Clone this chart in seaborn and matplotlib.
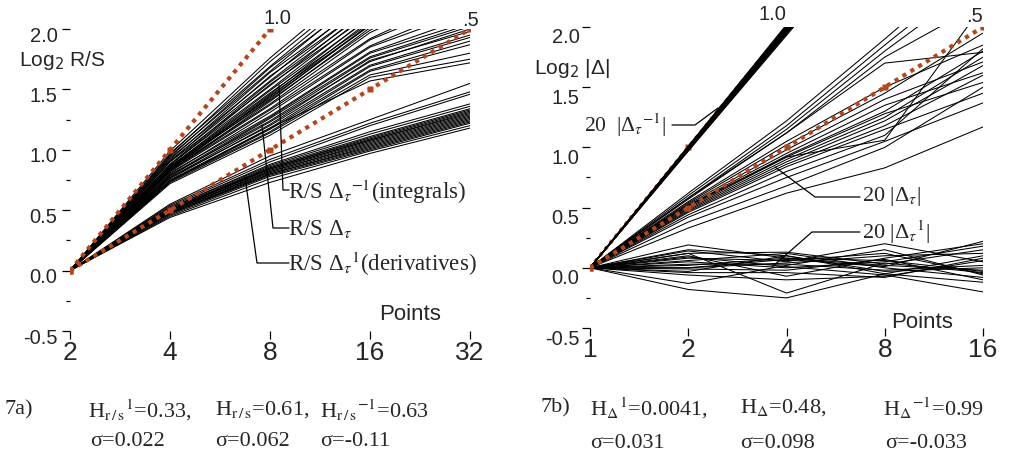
import numpy as np
import pandas as pd
import matplotlib
matplotlib.use("Agg")
import matplotlib.pyplot as plt
from matplotlib.lines import Line2D
from matplotlib.transforms import ScaledTranslation
from matplotlib.ticker import NullLocator
import seaborn as sns

# ---------------- data ----------------
# Panel a: log2 R/S against number of points (2..32)
rs_points = [2, 4, 8, 16, 32]
rs_integrals = [
    [0, 0.99, 1.76, 2.45, 3.00],
    [0, 0.96, 1.73, 2.40, 2.90],
    [0, 0.97, 1.69, 2.37, 2.90],
    [0, 0.94, 1.68, 2.30, 2.85],
    [0, 0.95, 1.65, 2.33, 2.80],
    [0, 0.92, 1.64, 2.24, 2.80],
    [0, 0.93, 1.60, 2.27, 2.75],
    [0, 0.90, 1.61, 2.20, 2.75],
    [0, 0.91, 1.57, 2.21, 2.70],
    [0, 0.88, 1.56, 2.16, 2.70],
    [0, 0.90, 1.53, 2.18, 2.65],
    [0, 0.87, 1.54, 2.12, 2.65],
    [0, 0.88, 1.50, 2.14, 2.60],
    [0, 0.86, 1.49, 2.09, 2.60],
    [0, 0.85, 1.46, 2.10, 2.55],
    [0, 0.86, 1.47, 2.05, 2.55],
    [0, 0.84, 1.44, 2.07, 2.50],
    [0, 0.83, 1.45, 2.03, 2.50],
    [0, 0.84, 1.42, 2.04, 2.50],
    [0, 0.82, 1.40, 2.01, 2.45],
]
rs_plain = [
    [0, 0.86, 1.43, 2.03, 2.45],
    [0, 0.85, 1.41, 1.99, 2.40],
    [0, 0.84, 1.38, 1.97, 2.35],
    [0, 0.83, 1.37, 1.92, 2.30],
    [0, 0.83, 1.34, 1.91, 2.25],
    [0, 0.82, 1.33, 1.86, 2.20],
    [0, 0.80, 1.31, 1.85, 2.15],
    [0, 0.81, 1.28, 1.81, 2.10],
    [0, 0.79, 1.27, 1.80, 2.06],
    [0, 0.78, 1.26, 1.77, 2.04],
    [0, 0.79, 1.24, 1.76, 2.02],
    [0, 0.77, 1.23, 1.73, 2.00],
    [0, 0.76, 1.21, 1.74, 1.98],
    [0, 0.77, 1.20, 1.70, 1.95],
    [0, 0.75, 1.18, 1.69, 1.93],
    [0, 0.74, 1.17, 1.66, 1.90],
    [0, 0.74, 1.15, 1.65, 1.87],
    [0, 0.73, 1.14, 1.62, 1.80],
    [0, 0.72, 1.12, 1.60, 1.75],
    [0, 0.74, 1.18, 1.57, 1.72],
]
rs_derivatives = [
    [0, 0.55, 0.95, 1.25, 1.55],
    [0, 0.54, 0.92, 1.22, 1.48],
    [0, 0.53, 0.90, 1.20, 1.46],
    [0, 0.52, 0.88, 1.15, 1.38],
    [0, 0.52, 0.87, 1.13, 1.36],
    [0, 0.51, 0.86, 1.11, 1.34],
    [0, 0.51, 0.85, 1.10, 1.33],
    [0, 0.50, 0.85, 1.09, 1.32],
    [0, 0.50, 0.84, 1.08, 1.31],
    [0, 0.50, 0.84, 1.08, 1.30],
    [0, 0.49, 0.83, 1.07, 1.29],
    [0, 0.49, 0.82, 1.06, 1.28],
    [0, 0.49, 0.82, 1.05, 1.27],
    [0, 0.48, 0.81, 1.04, 1.26],
    [0, 0.48, 0.80, 1.03, 1.25],
    [0, 0.47, 0.80, 1.02, 1.24],
    [0, 0.47, 0.79, 1.01, 1.23],
    [0, 0.46, 0.78, 1.00, 1.22],
    [0, 0.45, 0.76, 0.99, 1.20],
    [0, 0.44, 0.73, 0.97, 1.18],
]
rs_ref_points = {"1.0": [2, 4, 8], ".5": [2, 4, 8, 16, 32]}
rs_ref_values = {"1.0": [0, 1, 2], ".5": [0, 0.5, 1, 1.5, 2]}

# Panel b: log2 |Delta| against number of points (1..16)
d_points = [1, 2, 4, 8, 16]
d_inverse = [
    [0, 1.01, 2.02, 3.03, 4.03],
    [0, 1.01, 2.01, 3.02, 4.02],
    [0, 1.00, 2.00, 3.00, 4.00],
    [0, 1.00, 2.00, 2.99, 3.99],
    [0, 1.00, 1.99, 2.99, 3.98],
    [0, 1.00, 1.99, 2.98, 3.97],
    [0, 1.00, 1.99, 2.97, 3.96],
    [0, 0.99, 1.98, 2.97, 3.96],
    [0, 0.99, 1.98, 2.96, 3.95],
    [0, 0.99, 1.98, 2.96, 3.94],
    [0, 0.99, 1.97, 2.95, 3.94],
    [0, 0.99, 1.97, 2.95, 3.93],
    [0, 0.99, 1.97, 2.94, 3.92],
    [0, 0.98, 1.96, 2.94, 3.92],
    [0, 0.98, 1.96, 2.93, 3.91],
    [0, 0.98, 1.96, 2.93, 3.90],
    [0, 0.98, 1.95, 2.92, 3.89],
    [0, 0.98, 1.95, 2.91, 3.88],
    [0, 0.97, 1.94, 2.90, 3.87],
    [0, 0.97, 1.93, 2.89, 3.86],
]
d_plain = [
    [0, 0.62, 1.22, 1.90, 2.60],
    [0, 0.60, 1.18, 1.85, 2.50],
    [0, 0.58, 1.15, 1.80, 2.40],
    [0, 0.57, 1.12, 1.75, 2.20],
    [0, 0.52, 0.92, 1.06, 2.18],
    [0, 0.58, 1.12, 1.70, 1.79],
    [0, 0.55, 1.05, 1.50, 1.85],
    [0, 0.54, 1.02, 1.45, 1.95],
    [0, 0.53, 0.98, 1.40, 1.71],
    [0, 0.52, 0.95, 1.35, 1.62],
    [0, 0.51, 0.93, 1.30, 1.80],
    [0, 0.50, 0.92, 1.28, 1.54],
    [0, 0.49, 0.90, 1.25, 1.75],
    [0, 0.48, 0.88, 1.22, 1.68],
    [0, 0.47, 0.86, 1.18, 1.60],
    [0, 0.46, 0.84, 1.15, 1.45],
    [0, 0.44, 0.80, 1.10, 1.82],
    [0, 0.42, 0.75, 1.05, 1.37],
    [0, 0.38, 0.68, 1.00, 1.50],
    [0, 0.33, 0.62, 0.83, 1.17],
]
d_derivatives = [
    [0, 0.19, 0.08, 0.02, -0.02],
    [0, 0.15, 0.10, -0.05, 0.10],
    [0, 0.14, 0.05, 0.20, 0.05],
    [0, 0.12, 0.13, 0.03, 0.15],
    [0, 0.10, -0.07, 0.08, 0.20],
    [0, 0.08, 0.06, 0.12, -0.05],
    [0, 0.06, 0.12, 0.00, -0.08],
    [0, 0.05, 0.00, 0.05, 0.18],
    [0, 0.03, 0.03, -0.02, 0.02],
    [0, 0.02, 0.08, 0.06, -0.03],
    [0, 0.00, 0.04, 0.10, 0.12],
    [0, -0.01, -0.02, 0.07, -0.10],
    [0, -0.03, 0.10, -0.03, 0.00],
    [0, -0.04, -0.04, -0.08, 0.08],
    [0, 0.12, -0.21, 0.04, -0.04],
    [0, -0.13, 0.02, 0.15, -0.06],
    [0, -0.18, -0.25, -0.05, -0.12],
    [0, 0.09, 0.01, -0.06, -0.20],
    [0, -0.06, -0.10, -0.07, 0.06],
    [0, 0.00, 0.07, 0.01, 0.22],
]
d_ref_points = {"1.0": [1, 2, 4], ".5": [1, 2, 4, 8, 16]}
d_ref_values = {"1.0": [0, 1, 2], ".5": [0, 0.5, 1, 1.5, 2]}

y_ticks = [-0.5, 0.0, 0.5, 1.0, 1.5, 2.0]
y_tick_labels = ["-0.5", "0.0", "0.5", "1.0", "1.5", "2.0"]

# ---------------- style ----------------
sns.set_style("white")
plt.rcParams["font.family"] = ["Liberation Sans", "DejaVu Sans"]
plt.rcParams["mathtext.fontset"] = "stix"

RUST = "#b5461c"
SANS = ["Liberation Sans", "DejaVu Sans"]
SERIF = ["Liberation Serif", "DejaVu Serif"]
W, H = 1011, 461
LW = 0.75


def fx(px):
    return px / W


def fy(py):
    return 1 - py / H


def long_frame(points, groups):
    rows = []
    for gname, series in groups.items():
        for i, vals in enumerate(series):
            for p, v in zip(points, vals):
                rows.append({"group": gname, "series": f"{gname}-{i}", "points": p, "value": v})
    return pd.DataFrame(rows)


fig = plt.figure(figsize=(W / 100, H / 100), dpi=100)
ax_a = fig.add_axes([fx(70), fy(331), fx(470) - fx(70), fy(29) - fy(331)])
ax_b = fig.add_axes([fx(590), fy(328), fx(983) - fx(590), fy(27) - fy(328)])


def style_axes(ax, points, label_drop, label_pad):
    ax.set_xscale("log", base=2)
    ax.set_xlim(points[0], points[-1])
    ax.set_ylim(-0.5, 2.0)
    for s in ax.spines.values():
        s.set_visible(False)
    ax.set_xticks(points)
    ax.set_xticklabels([str(p) for p in points])
    ax.xaxis.set_minor_locator(NullLocator())
    ax.set_yticks(y_ticks)
    ax.set_yticklabels(y_tick_labels)
    ax.tick_params(axis="x", which="major", direction="out", length=6, width=0.9,
                   pad=1.5, labelsize=19, bottom=True, color="black")
    ax.tick_params(axis="y", which="major", direction="out", length=6, width=0.9,
                   pad=label_pad, labelsize=14.5, left=True, color="black")
    ax.tick_params(axis="y", which="minor", direction="out", length=3, width=0.9,
                   left=True, color="black")
    ax.set_xlabel("")
    ax.set_ylabel("")
    shift = ScaledTranslation(0, -label_drop / 100, fig.dpi_scale_trans)
    for lab in ax.get_yticklabels():
        lab.set_transform(lab.get_transform() + shift)


DOT = dict(color=RUST, ls=(0, (1, 1.2)), marker="s", mec="none", legend=False)

# ---- panel a ----
df_a = long_frame(rs_points, {"int": rs_integrals, "plain": rs_plain, "der": rs_derivatives})
ax_a.set_xscale("log", base=2)
sns.lineplot(data=df_a, x="points", y="value", units="series", estimator=None,
             color="black", lw=LW, ax=ax_a, legend=False)
for key in ["1.0", ".5"]:
    sns.lineplot(x=rs_ref_points[key], y=rs_ref_values[key], ax=ax_a,
                 lw=3.0, ms=4, zorder=5, **DOT)
style_axes(ax_a, rs_points, label_drop=5, label_pad=3)
ax_a.set_yticks([-0.25, 0.25, 0.75, 1.25], minor=True)

# ---- panel b ----
df_b = long_frame(d_points, {"inv": d_inverse, "plain": d_plain, "der": d_derivatives})
ax_b.set_xscale("log", base=2)
sns.lineplot(x=d_ref_points["1.0"], y=d_ref_values["1.0"], ax=ax_b,
             lw=2.6, ms=4, zorder=1, **DOT)
sns.lineplot(data=df_b, x="points", y="value", units="series", estimator=None,
             color="black", lw=LW, ax=ax_b, legend=False, zorder=2)
sns.lineplot(x=d_ref_points[".5"], y=d_ref_values[".5"], ax=ax_b,
             lw=3.0, ms=4, zorder=5, **DOT)
style_axes(ax_b, d_points, label_drop=9, label_pad=1.5)
ax_b.set_yticks([-0.25, 0.25, 0.75], minor=True)

# ---- slope labels and axis titles ----
for (px, py, s) in [(277, 19, "1.0"), (470, 20, ".5"), (772, 15, "1.0"), (975, 17, ".5")]:
    fig.text(fx(px), fy(py), s, ha="center", va="center", fontsize=14.5, family=SANS)

fig.text(fx(62), fy(60), r"Log$_2$ R/S", ha="center", va="center", fontsize=15,
         family=SANS, math_fontfamily="dejavusans")
fig.text(fx(410), fy(315), "Points", ha="center", va="center", fontsize=16, family=SANS)
fig.text(fx(572), fy(68), r"Log$_2$ |Δ|", ha="center", va="center", fontsize=15,
         family=SANS, math_fontfamily="dejavusans")
fig.text(fx(922), fy(322), "Points", ha="center", va="center", fontsize=16, family=SANS)


# ---- callouts ----
def leader(pts):
    fig.add_artist(Line2D([fx(p[0]) for p in pts], [fy(p[1]) for p in pts],
                          transform=fig.transFigure, color="black", lw=0.9))


def note(px, py, s, size=16.5):
    fig.text(fx(px), fy(py), s, ha="left", va="center", fontsize=size, family=SERIF)


leader([(279, 85), (283, 190), (289, 190)])
note(288, 192, r"R/S Δ$_\tau{}^{-1}$(integrals)")
leader([(262, 125), (273, 228), (289, 228)])
note(288, 229, r"R/S Δ$_\tau$")
leader([(245, 177), (257, 263), (289, 263)])
note(288, 264, r"R/S Δ$_\tau{}^{1}$(derivatives)")

leader([(672, 125), (695, 125), (718, 108)])
note(584, 125, r"20  |Δ$_\tau{}^{-1}$|", 15.5)
leader([(860, 197), (815, 197), (775, 167)])
note(862, 197, r"20 |Δ$_\tau$|", 16)
leader([(860, 232), (812, 232), (772, 267)])
note(862, 232, r"20 |Δ$_\tau{}^{1}$|", 16)


# ---- captions ----
def cap(px, py, s):
    fig.text(fx(px), fy(py), s, ha="left", va="center", fontsize=16, family=SERIF)


cap(5, 410, "7a)")
cap(88, 410, r"H$_{\rm r\,/\,s}{}^{1}$=0.33,")
cap(215, 410, r"H$_{\rm r\,/\,s}$=0.61,")
cap(320, 410, r"H$_{\rm r\,/\,s}{}^{-1}$=0.63")
cap(90, 441, "σ=0.022")
cap(215, 441, "σ=0.062")
cap(320, 441, "σ=-0.11")

cap(540, 408, "7b)")
cap(590, 408, r"H$_\Delta{}^{1}$=0.0041,")
cap(740, 408, r"H$_\Delta$=0.48,")
cap(883, 408, r"H$_\Delta{}^{-1}$=0.99")
cap(590, 443, "σ=0.031")
cap(740, 443, "σ=0.098")
cap(885, 443, "σ=-0.033")

fig.savefig("out.png", dpi=100)
